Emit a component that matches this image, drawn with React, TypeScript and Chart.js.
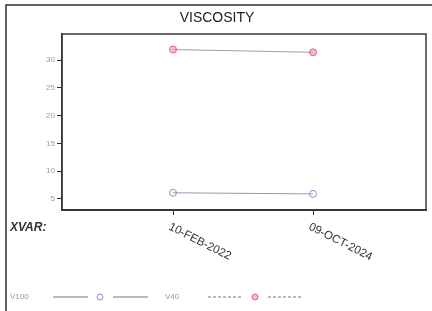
import React, { useEffect, useRef } from "react";
import { Chart, registerables } from "chart.js";

Chart.register(...registerables);

const categories = ["10-FEB-2022", "09-OCT-2024"];
const v100Values = [6.1, 5.9];
const v40Values = [31.9, 31.4];
const yTicks = [5, 10, 15, 20, 25, 30];
const seriesNames = ["V100", "V40"];
const titleText = "VISCOSITY";
const xAxisLabel = "XVAR:";

const RED = "#e0607a";
const BLUE = "#8c8ce6";

const decorPlugin = {
  id: "decor",
  afterDraw(chart: any) {
    const { ctx, chartArea } = chart;
    const xs = chart.scales.x;
    ctx.save();
    // outer frame
    ctx.strokeStyle = "#333";
    ctx.lineWidth = 1.5;
    ctx.beginPath();
    ctx.moveTo(6, 320);
    ctx.lineTo(6, 5);
    ctx.lineTo(440, 5);
    ctx.stroke();
    // plot frame
    ctx.strokeStyle = "#3a3a3a";
    ctx.lineWidth = 1.5;
    ctx.strokeRect(chartArea.left, chartArea.top, chartArea.right - chartArea.left, chartArea.bottom - chartArea.top);
    // title
    ctx.fillStyle = "#222";
    ctx.font = "14px 'Liberation Sans', Arial, sans-serif";
    ctx.textAlign = "center";
    ctx.textBaseline = "middle";
    ctx.fillText(titleText, 217, 18);
    // XVAR label
    ctx.font = "bold italic 12px 'Liberation Sans', Arial, sans-serif";
    ctx.textAlign = "left";
    ctx.fillStyle = "#333";
    ctx.fillText(xAxisLabel, 10, 228);
    // rotated category labels
    ctx.font = "11.5px 'Liberation Sans', Arial, sans-serif";
    ctx.fillStyle = "#333";
    categories.forEach((c, i) => {
      const px = xs.getPixelForValue(i);
      ctx.save();
      ctx.translate(px - 1, 221);
      ctx.rotate((27 * Math.PI) / 180);
      ctx.textAlign = "left";
      ctx.textBaseline = "top";
      ctx.fillText(c, 0, 0);
      ctx.restore();
    });
    // legend
    const ly = 297;
    ctx.font = "8px 'Liberation Sans', Arial, sans-serif";
    ctx.textAlign = "left";
    ctx.textBaseline = "middle";
    const drawItem = (x0: number, name: string, color: string, fill: string, dashed: boolean) => {
      ctx.fillStyle = "#999";
      ctx.fillText(name, x0, ly);
      ctx.strokeStyle = "#777";
      ctx.lineWidth = 1;
      ctx.setLineDash(dashed ? [3, 2] : []);
      ctx.beginPath();
      ctx.moveTo(x0 + 43, ly);
      ctx.lineTo(x0 + 78, ly);
      ctx.moveTo(x0 + 103, ly);
      ctx.lineTo(x0 + 138, ly);
      ctx.stroke();
      ctx.setLineDash([]);
      ctx.beginPath();
      ctx.arc(x0 + 90, ly, 3, 0, Math.PI * 2);
      ctx.fillStyle = fill;
      ctx.fill();
      ctx.strokeStyle = color;
      ctx.stroke();
    };
    drawItem(10, seriesNames[0], BLUE, "rgba(255,255,255,0)", false);
    drawItem(165, seriesNames[1], RED, "rgba(240,150,170,0.6)", true);
    ctx.restore();
  },
};

export default function App() {
  const ref = useRef<HTMLCanvasElement>(null);
  useEffect(() => {
    document.body.style.margin = "0";
    const chart = new Chart(ref.current!, {
      type: "line",
      data: {
        datasets: [
          {
            label: seriesNames[0],
            data: v100Values.map((v, i) => ({ x: i, y: v })),
            borderColor: "#9a9aae",
            borderWidth: 1,
            pointRadius: 3.5,
            pointBackgroundColor: "rgba(255,255,255,0)",
            pointBorderColor: BLUE,
            pointBorderWidth: 1,
          },
          {
            label: seriesNames[1],
            data: v40Values.map((v, i) => ({ x: i, y: v })),
            borderColor: "#a89aa0",
            borderWidth: 1,
            pointRadius: 3.5,
            pointBackgroundColor: "rgba(240,150,170,0.6)",
            pointBorderColor: RED,
            pointBorderWidth: 1,
          },
        ],
      },
      options: {
        animation: false,
        responsive: false,
        layout: { padding: { left: 0, right: 6, top: 34, bottom: 0 } },
        plugins: { legend: { display: false }, title: { display: false }, tooltip: { enabled: false } },
        scales: {
          x: {
            type: "linear",
            min: -0.793,
            max: 1.807,
            afterBuildTicks: (s: any) => {
              s.ticks = categories.map((_, i) => ({ value: i }));
            },
            afterFit: (s: any) => {
              s.height = 101;
            },
            ticks: { display: false },
            grid: { display: true, drawOnChartArea: false, drawTicks: true, tickLength: 5, color: "#333" },
            border: { display: true, color: "#333", width: 2 },
          },
          y: {
            min: 3,
            max: 34.7,
            afterBuildTicks: (s: any) => {
              s.ticks = yTicks.map((v) => ({ value: v }));
            },
            afterFit: (s: any) => {
              s.width = 62;
            },
            ticks: {
              color: "#9a9a9a",
              font: { size: 8, family: "'Liberation Sans', Arial, sans-serif" },
              padding: 2,
            },
            grid: { display: true, drawOnChartArea: false, drawTicks: true, tickLength: 5, color: "#333" },
            border: { display: true, color: "#333", width: 1.5 },
          },
        },
      },
      plugins: [decorPlugin],
    });
    return () => chart.destroy();
  }, []);
  return <canvas ref={ref} width={432} height={311} style={{ display: "block" }} />;
}
